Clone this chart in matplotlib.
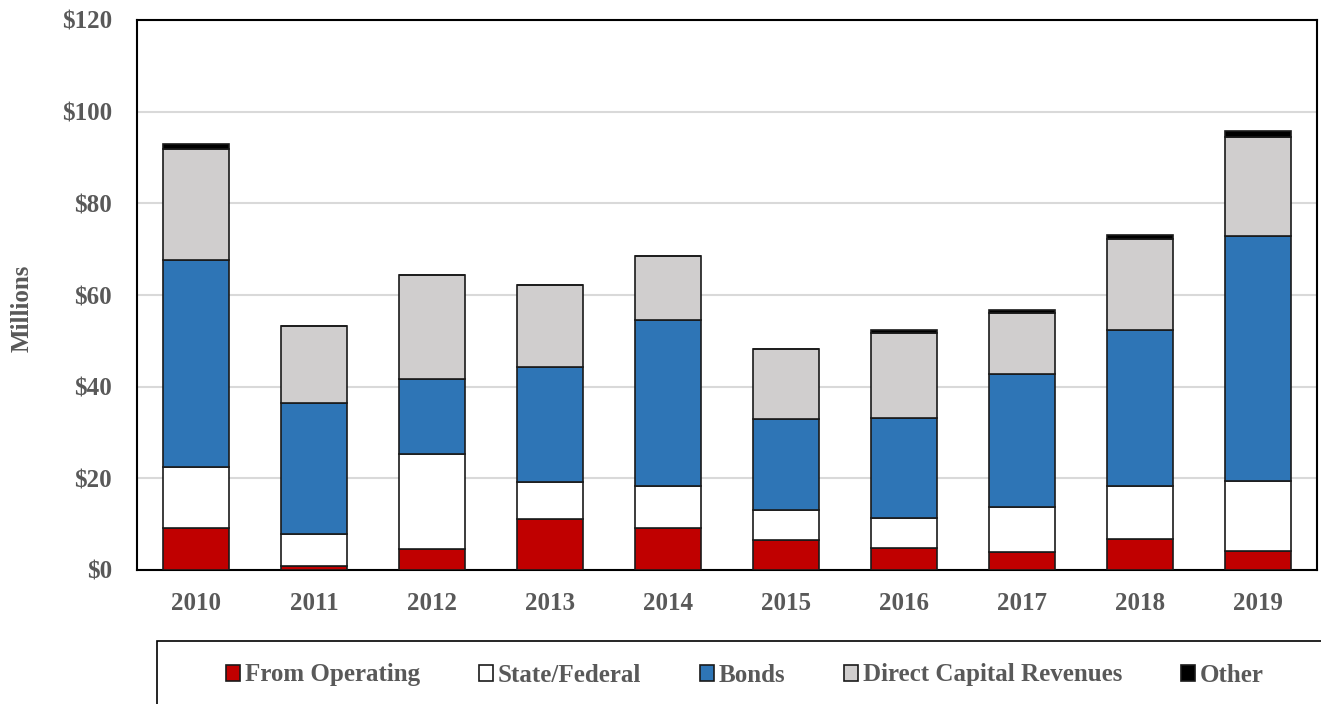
import matplotlib.pyplot as plt
import numpy as np
from matplotlib.patches import Rectangle

years = ['2010', '2011', '2012', '2013', '2014', '2015', '2016', '2017', '2018', '2019']
from_operating = [9.1, 0.9, 4.6, 11.1, 9.1, 6.5, 4.9, 4.0, 6.8, 4.2]
state_federal = [13.3, 7.0, 20.8, 8.0, 9.3, 6.7, 6.5, 9.8, 11.6, 15.3]
bonds = [45.2, 28.6, 16.3, 25.1, 36.1, 19.7, 21.8, 28.9, 34.0, 53.4]
direct_capital = [24.3, 16.7, 22.6, 18.0, 14.0, 15.4, 18.6, 13.3, 19.8, 21.6]
other = [1.1, 0.0, 0.0, 0.0, 0.0, 0.0, 0.5, 0.7, 1.0, 1.3]

series = [
    ('From Operating', from_operating, '#C00000'),
    ('State/Federal', state_federal, '#FFFFFF'),
    ('Bonds', bonds, '#2E75B6'),
    ('Direct Capital Revenues', direct_capital, '#D0CECE'),
    ('Other', other, '#000000'),
]

plt.rcParams['font.family'] = 'Liberation Serif'
plt.rcParams['font.weight'] = 'bold'
text_color = '#595959'

fig = plt.figure(figsize=(13.21, 7.04), dpi=100)
ax = fig.add_axes([137 / 1321, 1 - 570 / 704, 1180 / 1321, 550 / 704])

x = np.arange(len(years))
bottom = np.zeros(len(years))
for name, vals, color in series:
    vals = np.array(vals)
    ax.bar(x, vals, 0.56, bottom=bottom, color=color, edgecolor='#1a1a1a',
           linewidth=1.2, label=name, zorder=3)
    bottom += vals

ax.set_xlim(-0.5, len(years) - 0.5)
ax.set_ylim(0, 120)
ax.set_yticks(np.arange(0, 121, 20))
ax.set_yticklabels(['${}'.format(v) for v in range(0, 121, 20)])
ax.set_xticks(x)
ax.set_xticklabels(years)
ax.tick_params(length=0, labelsize=18, labelcolor=text_color)
ax.tick_params(axis='y', pad=18)
ax.tick_params(axis='x', pad=16)
ax.grid(axis='y', color='#D9D9D9', linewidth=1.5, zorder=0)
for sp in ax.spines.values():
    sp.set_color('black')
    sp.set_linewidth(1.5)

fig.text(22 / 1321, 1 - 308 / 704, 'Millions', rotation=90, ha='center', va='center',
         fontsize=18, color=text_color, fontweight='bold')

# legend box that runs off the right/bottom edge
fig.patches.append(Rectangle((157 / 1321, -0.05), 1.2, 0.05 + 63 / 704,
                             transform=fig.transFigure, fill=False,
                             edgecolor='black', linewidth=1.2, clip_on=False))
leg = fig.legend(loc='center', bbox_to_anchor=(745 / 1321, 1 - 675 / 704), ncol=5,
                 frameon=False, fontsize=18, handlelength=0.55, handleheight=0.6,
                 handletextpad=0.2, columnspacing=2.35)
for t in leg.get_texts():
    t.set_color(text_color)

fig.savefig('out.png', dpi=100)
